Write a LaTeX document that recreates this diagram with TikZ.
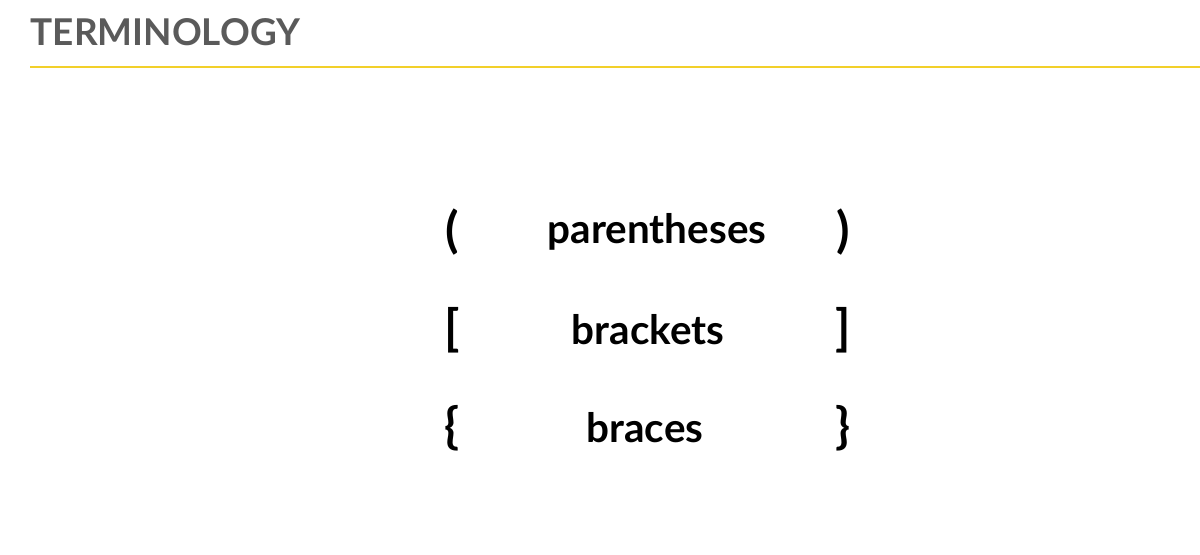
\documentclass[tikz,border=0pt]{standalone}
\usepackage{fontspec}
\setmainfont{Lato}
\definecolor{ttl}{HTML}{5A5A5A}
\definecolor{ylw}{HTML}{F2D02A}
\begin{document}
\begin{tikzpicture}[x=0.01cm,y=-0.01cm,
  word/.style={font=\fontsize{11.5pt}{13pt}\selectfont\bfseries,anchor=center,inner sep=0},
  brk/.style={font=\fontsize{14pt}{16pt}\selectfont\bfseries,anchor=center,inner sep=0}]
\useasboundingbox (0,0) rectangle (1200,554);
\node[font=\fontsize{10.5pt}{12pt}\selectfont\bfseries,text=ttl,anchor=west,inner sep=0] (title) at (30,32) {TERMINOLOGY};
\draw[ylw,line width=0.8pt] (30,67) -- (1200,67);
\node[brk] (l1) at (452,232) {(};
\node[word] (w1) at (657,232) {parentheses};
\node[brk] (r1) at (843,232) {)};
\node[brk] (l2) at (452,330) {[};
\node[word] (w2) at (648,330) {brackets};
\node[brk] (r2) at (843,330) {]};
\node[brk] (l3) at (452,428) {\{};
\node[word] (w3) at (645,428) {braces};
\node[brk] (r3) at (843,428) {\}};
\end{tikzpicture}
\end{document}
